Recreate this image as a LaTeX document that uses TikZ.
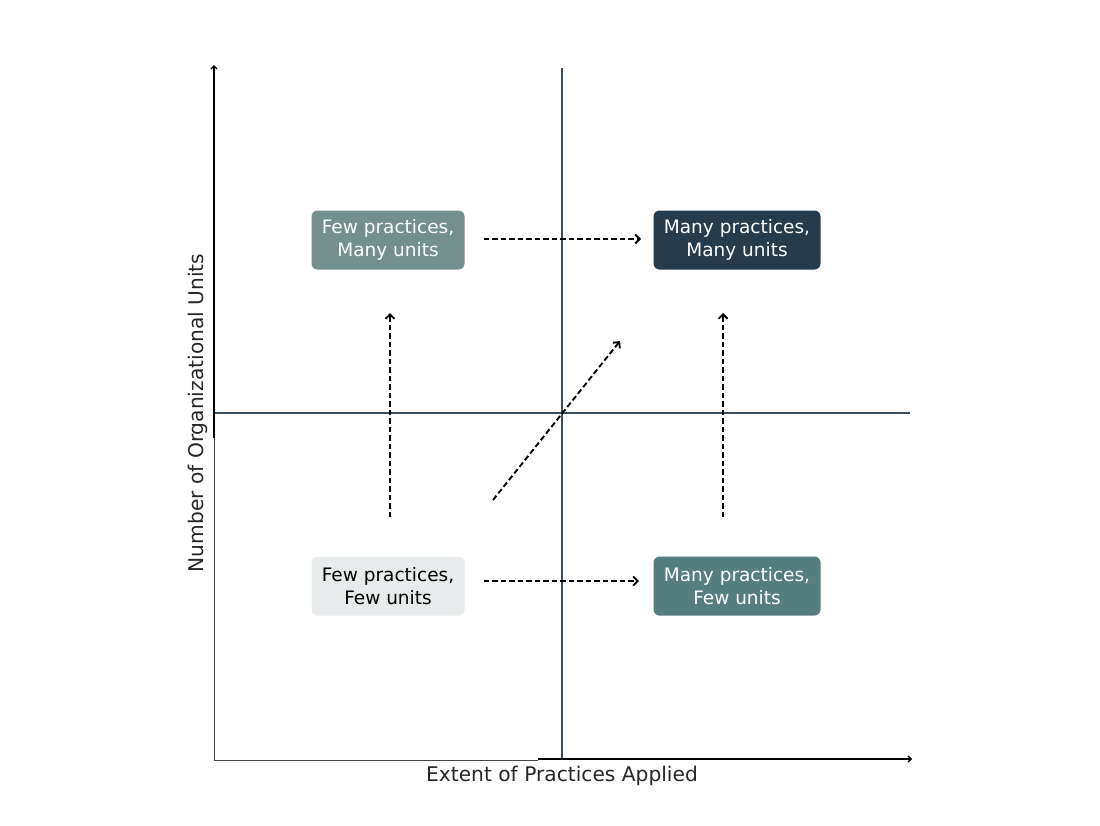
\documentclass[tikz,border=0pt]{standalone}
\usepackage{fontspec}
\setmainfont{DejaVu Sans}
\usepackage{tikz}
\usetikzlibrary{arrows.meta}
\definecolor{ourlightgrey}{HTML}{E8EBEB}
\definecolor{oursage}{HTML}{73908F}
\definecolor{ourteal}{HTML}{557F7E}
\definecolor{ournavy}{HTML}{263B4B}
\definecolor{ourslate}{HTML}{3B4C5B}
\definecolor{ourspine}{HTML}{444444}

\begin{document}
\begin{tikzpicture}[x=1pt,y=-1pt,>={Straight Barb[length=4.5pt,width=9pt]}]

  \tikzstyle{quadbox}=[rounded corners=6pt, inner xsep=9pt, minimum height=59pt, align=center, font=\fontsize{18.5}{22.3}\selectfont]
  \tikzstyle{move}=[->, line width=1.9pt, dash pattern=on 5.5pt off 3pt]
  \tikzstyle{axis}=[-{Straight Barb[length=3pt,width=6pt]}, line width=1.4pt, black]
  \tikzstyle{divider}=[line width=2pt, draw=ourslate]
  \tikzstyle{axislabel}=[font=\fontsize{20.2}{24}\selectfont, text=black!85]

  \useasboundingbox (0,0) rectangle (1100,825);

  % frame
  \draw[ourspine, line width=1pt] (214,438) -- (214,760) -- (538,760);

  % quadrant lines
  \draw[divider] (562,68) -- (562,760);
  \draw[divider] (214,413) -- (910,413);

  % axes
  \draw[axis] (538,759) -- (912,759);
  \draw[axis] (214,438) -- (214,65);

  \path
  (388,240) node[quadbox, fill=oursage, text=white, minimum width=153pt](fm){Few practices,\\Many units}
  (737,240) node[quadbox, fill=ournavy, text=white, minimum width=167pt](mm){Many practices,\\Many units}
  (388,586) node[quadbox, fill=ourlightgrey, text=black, minimum width=153pt](ff){Few practices,\\Few units}
  (737,586) node[quadbox, fill=ourteal, text=white, minimum width=167pt](mf){Many practices,\\Few units};

  \path
  (562,776) node[axislabel](xl){Extent of Practices Applied}
  (198,413) node[axislabel, rotate=90](yl){Number of Organizational Units};

  \coordinate (ffup) at (390,517);
  \coordinate (fmdown) at (390,313);
  \coordinate (mfup) at (723,517);
  \coordinate (mmdown) at (723,313);
  \coordinate (diagstart) at (493,500);
  \coordinate (diagend) at (620,341);

  \draw[move] (fm.east) ++(19,-1) coordinate (fmr) -- (641,239) coordinate (mml);
  \draw[move] (ff.east) ++(19,-5) coordinate (ffr) -- (639,581) coordinate (mfl);
  \draw[move] (ffup) -- (fmdown);
  \draw[move] (mfup) -- (mmdown);
  \draw[move] (diagstart) -- (diagend);
\end{tikzpicture}
\end{document}
